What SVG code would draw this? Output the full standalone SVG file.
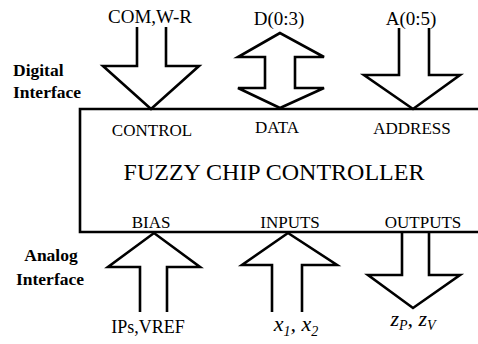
<svg xmlns="http://www.w3.org/2000/svg" width="478" height="344" viewBox="0 0 478 344">
<style>
  .t { font-family: "Liberation Serif", "Times New Roman", serif; fill: #000; }
  .b { font-weight: bold; }
  .arr { fill: none; stroke: #000; stroke-width: 2.6; stroke-linejoin: miter; }
  .box { fill: none; stroke: #000; stroke-width: 2.6; }
</style>
<rect width="478" height="344" fill="#fff"/>
<g id="side-labels">
  <text class="t b" x="13" y="76" font-size="17.5">Digital</text>
  <text class="t b" x="13" y="98" font-size="17.5">Interface</text>
  <text class="t b" x="51" y="261" font-size="17.5" text-anchor="middle">Analog</text>
  <text class="t b" x="50" y="285" font-size="17.5" text-anchor="middle">Interface</text>
</g>
<g id="chip">
  <path class="box" d="M478,109 H80 V232 H478"/>
  <text class="t" x="152" y="136" font-size="17" text-anchor="middle">CONTROL</text>
  <text class="t" x="277" y="133" font-size="17" text-anchor="middle">DATA</text>
  <text class="t" x="412" y="134" font-size="17" text-anchor="middle">ADDRESS</text>
  <text class="t" x="274" y="180" font-size="24" text-anchor="middle">FUZZY CHIP CONTROLLER</text>
  <text class="t" x="151" y="228" font-size="17" text-anchor="middle">BIAS</text>
  <text class="t" x="290" y="228" font-size="17" text-anchor="middle">INPUTS</text>
  <text class="t" x="423" y="228" font-size="17" text-anchor="middle">OUTPUTS</text>
</g>
<g id="connectors">
  <g id="com">
    <path class="arr" d="M137,27 V66 H103 L151,109 L199,66 H166 V27"/>
    <text class="t" x="150" y="23" font-size="19" text-anchor="middle">COM,W-R</text>
  </g>
  <g id="data">
    <path class="arr" d="M280,33 L238,57 H265 V88 H238 L280,108 L324,88 H295 V57 H324 Z"/>
    <text class="t" x="279" y="25" font-size="19" text-anchor="middle">D(0:3)</text>
  </g>
  <g id="addr">
    <path class="arr" d="M399,28 V75 H364 L413,109 L460,75 H429 V28"/>
    <text class="t" x="411" y="25" font-size="19" text-anchor="middle">A(0:5)</text>
  </g>
  <g id="bias">
    <path class="arr" d="M140,312 V267 H108 L154,233 L200,267 H167 V312"/>
    <text class="t" x="148" y="333" font-size="18" text-anchor="middle">IPs,VREF</text>
  </g>
  <g id="inputs">
    <path class="arr" d="M272,312 V265 H242 L288,233 L337,265 H302 V312"/>
    <text class="t" x="296" y="331" font-size="22" text-anchor="middle" font-style="italic">x<tspan font-size="14" dy="5">1</tspan><tspan dy="-5">, x</tspan><tspan font-size="14" dy="5">2</tspan></text>
  </g>
  <g id="outputs">
    <path class="arr" d="M402,233 V275 H368 L413,308 L460,275 H429 V233"/>
    <text class="t" x="413" y="326" font-size="22" text-anchor="middle" font-style="italic">z<tspan font-size="14" dy="4">P</tspan><tspan dy="-4">, z</tspan><tspan font-size="14" dy="4">V</tspan></text>
  </g>
</g>
</svg>
